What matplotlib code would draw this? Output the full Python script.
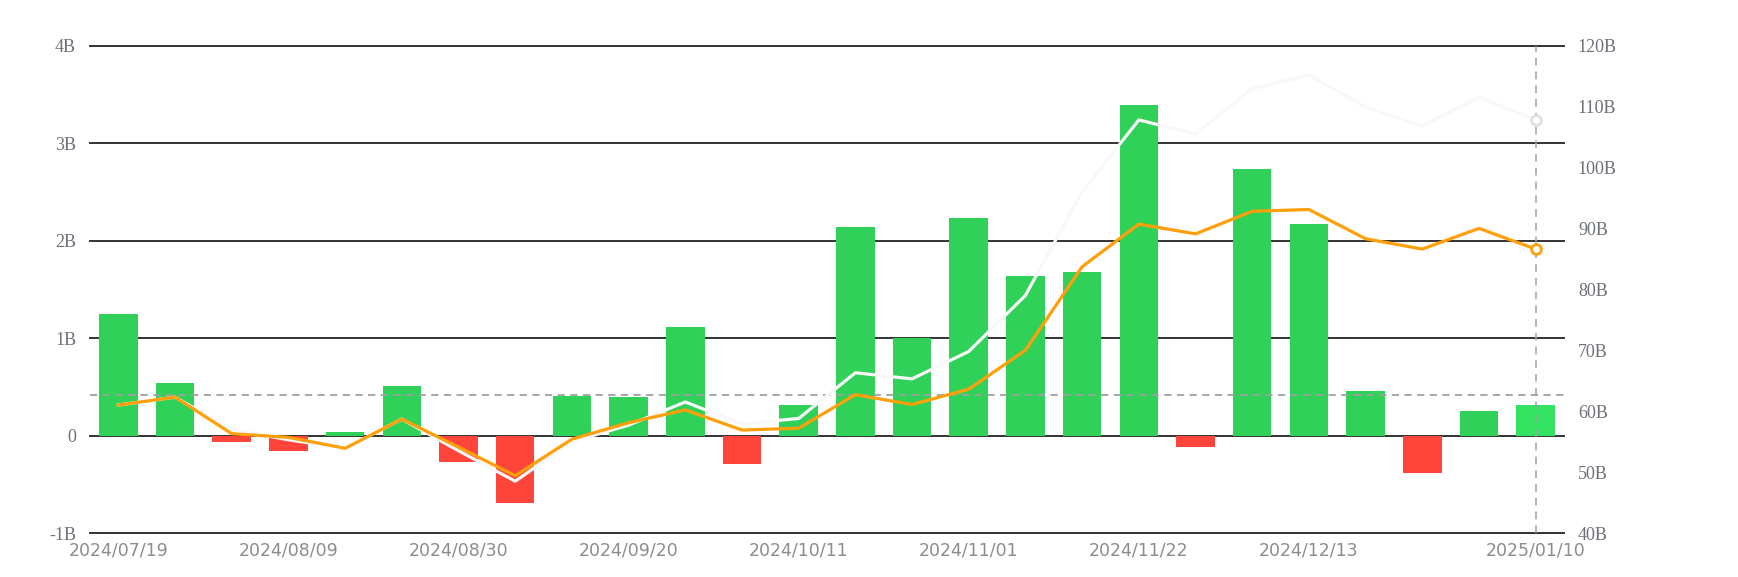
import matplotlib
matplotlib.use("Agg")
import matplotlib.pyplot as plt

# ---- data ----
dates = ['2024/07/19', '2024/07/26', '2024/08/02', '2024/08/09', '2024/08/16', '2024/08/23',
         '2024/08/30', '2024/09/06', '2024/09/13', '2024/09/20', '2024/09/27', '2024/10/04',
         '2024/10/11', '2024/10/18', '2024/10/25', '2024/11/01', '2024/11/08', '2024/11/15',
         '2024/11/22', '2024/11/29', '2024/12/06', '2024/12/13', '2024/12/20', '2024/12/27',
         '2025/01/03', '2025/01/10']
flows_b = [1.25, 0.54, -0.07, -0.16, 0.04, 0.51, -0.27, -0.69, 0.41, 0.40, 1.11, -0.29, 0.31,
           2.14, 1.00, 2.23, 1.64, 1.68, 3.39, -0.12, 2.73, 2.17, 0.46, -0.38, 0.25, 0.31]
orange_b = [61.0, 62.3, 56.3, 55.7, 53.9, 58.7, 54.1, 49.4, 55.4, 58.1, 60.2, 56.9, 57.2,
            62.7, 61.1, 63.6, 70.0, 83.7, 90.7, 89.1, 92.8, 93.1, 88.3, 86.6, 90.0, 86.6]
white_b = [61.0, 62.3, 57.0, 55.3, 53.9, 58.7, 53.5, 48.5, 55.0, 57.7, 61.5, 57.9, 58.8,
           66.3, 65.3, 69.8, 79.0, 96.0, 107.8, 105.5, 112.9, 115.2, 109.9, 106.8, 111.5, 107.8]
left_ticks = [-1, 0, 1, 2, 3, 4]
left_labels = ['-1B', '0', '1B', '2B', '3B', '4B']
right_ticks = [40, 50, 60, 70, 80, 90, 100, 110, 120]
right_labels = ['40B', '50B', '60B', '70B', '80B', '90B', '100B', '110B', '120B']
xtick_idx = [0, 3, 6, 9, 12, 15, 18, 21, 25]
pointer_level = 0.42
pointer_idx = 25

GREEN = '#30d158'
GREEN_HI = '#34e262'
RED = '#ff453a'
ORANGE = '#ff9f0a'
LABEL = '#6e7079'

W, H = 1738, 577
fig = plt.figure(figsize=(W / 100, H / 100), dpi=100)
ax = fig.add_axes([90 / W, 1 - 533 / H, (1564 - 90) / W, (533 - 45.6) / H])
ax2 = ax.twinx()

x = list(range(len(dates)))
colors = [GREEN if v >= 0 else RED for v in flows_b]
colors[pointer_idx] = GREEN_HI
ax.bar(x, flows_b, width=0.68, color=colors, zorder=2)

ax.set_xlim(-0.5, len(dates) - 0.5)
ax.set_ylim(-1, 4)
ax.set_yticks(left_ticks)
ax.set_yticklabels(left_labels, family='Liberation Serif', fontsize=13, color=LABEL)
ax.set_xticks(xtick_idx)
ax.set_xticklabels([dates[i] for i in xtick_idx], family='DejaVu Sans', fontsize=12.5,
                   color='#8c8c8c')
ax.tick_params(axis='both', length=0)
ax.tick_params(axis='y', pad=10)
ax.tick_params(axis='x', pad=6)
for t in left_ticks:
    ax.axhline(t, color='#333333', lw=1.4, zorder=1, clip_on=False)
for s in ax.spines.values():
    s.set_visible(False)

ax2.plot(x, white_b, color='#f8f8f8', lw=2.3, zorder=3)
ax2.plot(x, orange_b, color=ORANGE, lw=2.3, zorder=4)
ax2.plot([x[pointer_idx]], [white_b[pointer_idx]], marker='o', ms=7, mfc='white',
         mec='#e0e0e0', mew=2, zorder=5)
ax2.plot([x[pointer_idx]], [orange_b[pointer_idx]], marker='o', ms=7, mfc='white',
         mec=ORANGE, mew=2, zorder=5)
ax2.set_ylim(40, 120)
ax2.set_yticks(right_ticks)
ax2.set_yticklabels(right_labels, family='Liberation Serif', fontsize=13, color=LABEL)
ax2.tick_params(axis='y', length=0, pad=10)
for s in ax2.spines.values():
    s.set_visible(False)

ax.axhline(pointer_level, color='#a0a0a0', lw=1.3, ls=(0, (4, 3)), zorder=3)
ax.axvline(x[pointer_idx], color='#a0a0a0', lw=1.1, ls=(0, (5, 4)), zorder=3)

fig.savefig('out.png', dpi=100)
